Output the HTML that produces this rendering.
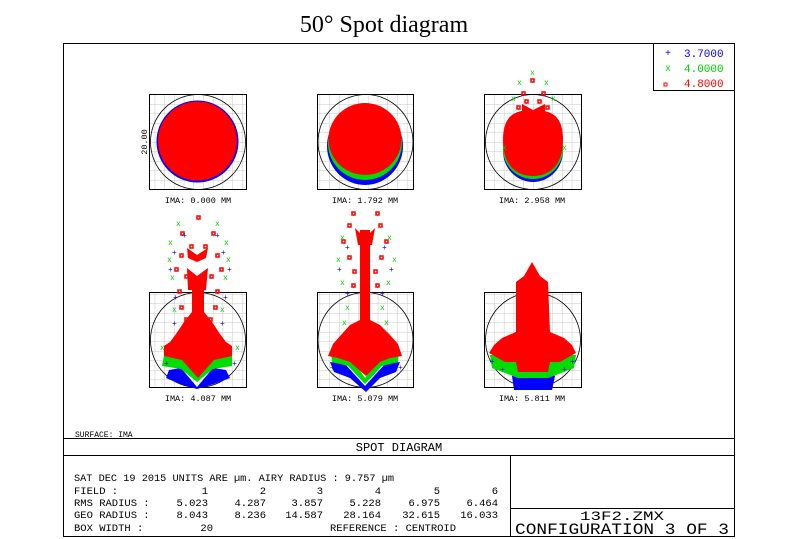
<!DOCTYPE html>
<html><head><meta charset="utf-8"><style>
html,body{margin:0;padding:0;background:#fff;}
svg{display:block;}
text{font-family:"Liberation Mono",monospace;}
</style></head><body>
<svg width="800" height="539" viewBox="0 0 800 539" xmlns="http://www.w3.org/2000/svg">
<defs>
<pattern id="g" x="0" y="0" width="9.7" height="9.5" patternUnits="userSpaceOnUse">
<path d="M9.7 0V9.5M0 9.5H9.7" stroke="#c8c8c8" stroke-width="1" fill="none"/>
</pattern>
</defs>
<text x="384" y="32" text-anchor="middle" style="font-family:'Liberation Serif',serif" font-size="24">50° Spot diagram</text>
<rect x="63.5" y="43.5" width="671" height="493" fill="none" stroke="#000"/>
<rect x="653.5" y="43.5" width="81" height="47" fill="none" stroke="#000"/>
<text x="665" y="56" font-size="10" fill="#00f">+</text><text x="684" y="57" font-size="11" fill="#00f">3.7000</text>
<text x="665" y="71" font-size="10" fill="#0d0">x</text><text x="684" y="72" font-size="11" fill="#0c0">4.0000</text>
<rect x="664" y="83" width="3" height="3" fill="none" stroke="#f00"/><text x="684" y="87" font-size="11" fill="#f00">4.8000</text>

<g stroke="#000" fill="url(#g)">
<rect x="149.5" y="94.5" width="97" height="95"/>
<rect x="317.5" y="94.5" width="96" height="95"/>
<rect x="484.5" y="94.5" width="97" height="95"/>
<rect x="149.5" y="292.5" width="97" height="95"/>
<rect x="317.5" y="292.5" width="96" height="95"/>
<rect x="484.5" y="292.5" width="97" height="95"/>
</g>
<g fill="none" stroke="#000" stroke-width="0.8">
<circle cx="198" cy="142" r="47.5"/>
<circle cx="365.5" cy="142" r="47.5"/>
<circle cx="533" cy="142" r="47.5"/>
<circle cx="198" cy="340" r="47.5"/>
<circle cx="365.5" cy="340" r="47.5"/>
<circle cx="533" cy="340" r="47.5"/>
</g>

<circle cx="197.5" cy="141.5" r="41" fill="#00f"/>
<circle cx="197.5" cy="141" r="39.5" fill="#f00"/>
<ellipse cx="365" cy="146" rx="38" ry="39" fill="#00f"/>
<ellipse cx="365" cy="143" rx="37" ry="37" fill="#0d0"/>
<ellipse cx="365" cy="139" rx="36.5" ry="36" fill="#f00"/>
<ellipse cx="533" cy="151" rx="30" ry="31" fill="#00f"/>
<ellipse cx="533" cy="149" rx="30" ry="30" fill="#0d0"/>
<path d="M503 140 C503 115 515 110 533 110 C551 110 563 115 563 140 C563 165 550 176 533 176 C516 176 503 165 503 140Z" fill="#f00"/>
<g fill="none" stroke="#f00" stroke-width="1.5"><rect x="531" y="79" width="3" height="3"/><rect x="522" y="92" width="3" height="3"/><rect x="542" y="92" width="3" height="3"/><rect x="525" y="100" width="3" height="3"/><rect x="538" y="100" width="3" height="3"/><rect x="517" y="106" width="3" height="3"/><rect x="546" y="106" width="3" height="3"/></g>
<path d="M522 104 L533 110 L545 104 L545 112 L522 112Z" fill="#f00"/>
<g font-size="8" fill="#0c0"><text x="530" y="75">x</text><text x="517" y="85">x</text><text x="544" y="85">x</text><text x="511" y="101">x</text><text x="551" y="101">x</text><text x="502" y="150">x</text><text x="562" y="150">x</text></g>

<path d="M166 378 L169 370 L181 368 L197 387 L213 368 L226 370 L230 378 L214 384 L197 389 L180 384Z" fill="#00f"/>
<path d="M164 355 L185 360 L197 376 L209 360 L232 355 L232 366 L213 369 L197 382 L181 369 L162 366Z" fill="#0d0"/>
<path d="M192 290 L204 290 L204 312 L212 322 L220 334 L226 342 L232 346 L232 356 L214 360 L198 378 L182 360 L164 356 L164 346 L170 342 L176 334 L184 322 L192 312Z" fill="#f00"/>
<g fill="none" stroke="#f00" stroke-width="1.5">
<rect x="197" y="216" width="3" height="3"/><rect x="181" y="232" width="3" height="3"/><rect x="212" y="232" width="3" height="3"/><rect x="190" y="245" width="3" height="3"/><rect x="204" y="245" width="3" height="3"/><rect x="180" y="254" width="3" height="3"/><rect x="216" y="254" width="3" height="3"/><rect x="175" y="268" width="3" height="3"/><rect x="220" y="268" width="3" height="3"/><rect x="185" y="275" width="3" height="3"/><rect x="210" y="275" width="3" height="3"/><rect x="178" y="290" width="3" height="3"/><rect x="216" y="290" width="3" height="3"/><rect x="180" y="306" width="3" height="3"/><rect x="214" y="306" width="3" height="3"/><rect x="185" y="318" width="3" height="3"/><rect x="209" y="318" width="3" height="3"/></g>
<path d="M187 248 L197 255 L208 248 L206 258 L197 262 L188 258Z M187 268 L197 276 L208 268 L206 290 L188 290Z" fill="#f00"/>
<g font-size="8" fill="#0c0"><text x="176" y="226">x</text><text x="215" y="226">x</text><text x="168" y="245">x</text><text x="224" y="245">x</text><text x="167" y="262">x</text><text x="226" y="262">x</text><text x="170" y="280">x</text><text x="223" y="280">x</text><text x="172" y="312">x</text><text x="220" y="312">x</text><text x="160" y="350">x</text><text x="235" y="350">x</text></g>
<g font-size="8" fill="#00f"><text x="182" y="238">+</text><text x="215" y="238">+</text><text x="172" y="255">+</text><text x="221" y="255">+</text><text x="168" y="272">+</text><text x="227" y="272">+</text><text x="173" y="300">+</text><text x="223" y="300">+</text><text x="172" y="326">+</text><text x="220" y="326">+</text><text x="164" y="366">+</text><text x="232" y="366">+</text></g>

<path d="M330 362 L345 364 L365 386 L385 364 L400 362 L396 372 L380 378 L366 392 L350 378 L334 372Z" fill="#00f"/>
<path d="M331 352 L350 356 L365 378 L380 356 L399 352 L398 362 L382 366 L365 384 L348 366 L332 362Z" fill="#0d0"/>
<path d="M360 230 L370 230 L370 320 L380 325 L390 335 L398 344 L402 356 L390 358 L380 362 L366 376 L350 362 L338 358 L328 356 L333 344 L341 335 L350 325 L360 320Z" fill="#f00"/>
<g fill="none" stroke="#f00" stroke-width="1.5">
<rect x="352" y="212" width="3" height="3"/><rect x="376" y="212" width="3" height="3"/><rect x="348" y="224" width="3" height="3"/><rect x="379" y="224" width="3" height="3"/><rect x="342" y="240" width="3" height="3"/><rect x="385" y="240" width="3" height="3"/><rect x="348" y="256" width="3" height="3"/><rect x="380" y="256" width="3" height="3"/><rect x="353" y="270" width="3" height="3"/><rect x="374" y="270" width="3" height="3"/><rect x="352" y="284" width="3" height="3"/><rect x="376" y="284" width="3" height="3"/></g>
<path d="M355 228 L365 238 L375 228 L372 245 L358 245Z" fill="#f00"/>
<g font-size="8" fill="#0c0"><text x="340" y="240">x</text><text x="387" y="240">x</text><text x="336" y="262">x</text><text x="392" y="262">x</text><text x="340" y="285">x</text><text x="386" y="285">x</text><text x="345" y="310">x</text><text x="380" y="310">x</text><text x="342" y="325">x</text><text x="384" y="325">x</text></g>
<g font-size="8" fill="#00f"><text x="345" y="250">+</text><text x="382" y="250">+</text><text x="337" y="272">+</text><text x="389" y="272">+</text><text x="345" y="296">+</text><text x="380" y="296">+</text><text x="330" y="370">+</text><text x="398" y="370">+</text></g>

<path d="M512 376 L518 372 L548 372 L555 376 L552 390 L514 390Z" fill="#00f"/>
<path d="M490 355 L576 355 L574 368 L548 378 L518 378 L492 368Z" fill="#0d0"/>
<path d="M532 262 L540 276 L548 282 L550 332 L564 338 L572 345 L576 353 L560 362 L550 362 L548 372 L518 372 L516 362 L505 362 L489 353 L494 345 L502 338 L516 332 L516 282 L524 276Z" fill="#f00"/>
<g font-size="8" fill="#00f"><text x="490" y="364">+</text><text x="570" y="364">+</text><text x="500" y="372">+</text><text x="562" y="372">+</text></g>

<g font-size="8.5" text-anchor="middle">
<text x="198" y="203">IMA: 0.000 MM</text>
<text x="365" y="203">IMA: 1.792 MM</text>
<text x="532" y="203">IMA: 2.958 MM</text>
<text x="198" y="401">IMA: 4.087 MM</text>
<text x="365" y="401">IMA: 5.079 MM</text>
<text x="532" y="401">IMA: 5.811 MM</text>
</g>
<text x="147" y="142" font-size="8.5" text-anchor="middle" transform="rotate(-90 147 142)">20.00</text>

<text x="75" y="437" font-size="8">SURFACE: IMA</text>
<line x1="63" y1="438.5" x2="735" y2="438.5" stroke="#000"/>
<text x="399" y="451" font-size="12" text-anchor="middle">SPOT DIAGRAM</text>
<line x1="63" y1="455.5" x2="735" y2="455.5" stroke="#000"/>
<line x1="510.5" y1="455" x2="510.5" y2="536" stroke="#000"/>
<line x1="510" y1="508.5" x2="735" y2="508.5" stroke="#000"/>
<g font-size="10.5">
<text x="74" y="481" textLength="320" lengthAdjust="spacingAndGlyphs">SAT DEC 19 2015  UNITS ARE µm.  AIRY RADIUS : 9.757 µm</text>
<text x="74" y="494">FIELD       :</text>
<text x="74" y="506">RMS RADIUS :</text>
<text x="74" y="518">GEO RADIUS :</text>
<text x="74" y="531">BOX WIDTH   :</text>
<text x="213" y="531" text-anchor="end">20</text>
<text x="330" y="531">REFERENCE  : CENTROID</text>
</g>
<g font-size="10.5" text-anchor="end">
<text x="208" y="494">1</text><text x="266" y="494">2</text><text x="323" y="494">3</text><text x="381" y="494">4</text><text x="440" y="494">5</text><text x="498" y="494">6</text>
<text x="208" y="506">5.023</text><text x="266" y="506">4.287</text><text x="323" y="506">3.857</text><text x="381" y="506">5.228</text><text x="440" y="506">6.975</text><text x="498" y="506">6.464</text>
<text x="208" y="518">8.043</text><text x="266" y="518">8.236</text><text x="323" y="518">14.587</text><text x="381" y="518">28.164</text><text x="440" y="518">32.615</text><text x="498" y="518">16.033</text>
</g>
<text x="622" y="520" font-size="13" text-anchor="middle" textLength="84" lengthAdjust="spacingAndGlyphs">13F2.ZMX</text>
<text x="622" y="534" font-size="16" text-anchor="middle" textLength="214" lengthAdjust="spacingAndGlyphs">CONFIGURATION 3 OF 3</text>
</svg>
</body></html>
